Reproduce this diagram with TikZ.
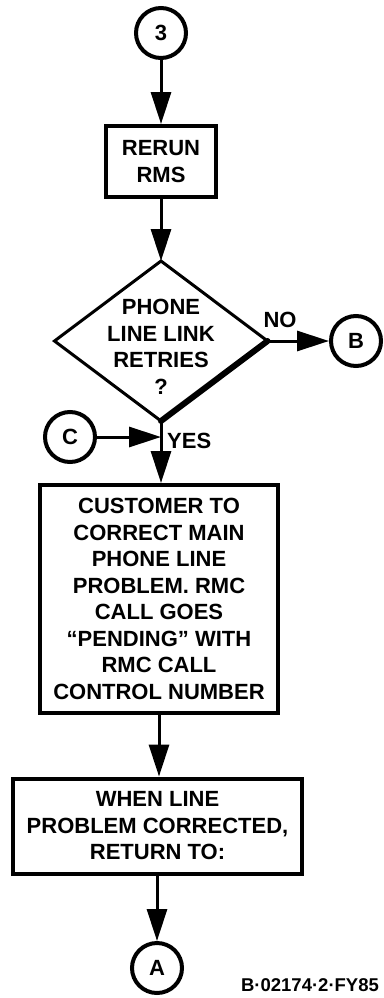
\documentclass[tikz,border=0pt]{standalone}
\usepackage{fontspec}
\setmainfont{Liberation Sans}
\usetikzlibrary{shapes.geometric,arrows.meta}
\begin{document}
\begin{tikzpicture}[x=1pt,y=-1pt,
  mainfont/.style={font=\bfseries\fontsize{22}{26.5}\selectfont},
  lbl/.style={mainfont, align=center, inner sep=0},
  conn/.style={circle, draw, line width=4pt, minimum size=50pt, inner sep=0, mainfont},
  stepbox/.style={rectangle, draw, line width=4pt, align=center, inner sep=0, mainfont},
  flow/.style={line width=3pt, -{Triangle[length=32pt,width=20pt]}},
]
\useasboundingbox (0,0) rectangle (383,998);

\node[conn] (n3) at (161,33) {3};
\node[stepbox, minimum width=110pt, minimum height=71pt] (rerun) at (161,161.5) {RERUN\\RMS};
\node[diamond, draw, line width=3pt, outer sep=0pt, minimum width=213pt, minimum height=160pt, inner sep=0] (dia) at (161,341) {};
\node[lbl] (diat) at (161,347) {PHONE\\LINE LINK\\RETRIES\\?};
\node[conn] (B) at (356,341) {B};
\node[conn] (C) at (70,437) {C};
\node[lbl] (no) at (280,320) {NO};
\node[lbl, anchor=west] (yes) at (167,441) {YES};
\node[stepbox, minimum width=238pt, minimum height=228pt] (main) at (159,599)
  {CUSTOMER TO\\CORRECT MAIN\\PHONE LINE\\PROBLEM. RMC\\CALL GOES\\“PENDING” WITH\\RMC CALL\\CONTROL NUMBER};
\node[stepbox, minimum width=289pt, minimum height=95pt] (ret) at (157.5,826)
  {WHEN LINE\\PROBLEM CORRECTED,\\RETURN TO:};
\node[conn] (A) at (157,968) {A};
\node[font=\bfseries\fontsize{18.5}{20}\selectfont, inner sep=0] (code) at (310,985) {B·02174·2·FY85};

\draw[line width=6pt, line cap=round] (dia.east) -- (dia.south);
\draw[flow] (n3) -- (rerun);
\draw[flow] (rerun) -- (dia.north);
\draw[flow] (dia.east) -- (B);
\draw[flow] (dia.south) -- (dia.south |- main.north);
\draw[flow] (C) -- (C -| dia.south);
\draw[flow] (main.south) -- (main.south |- ret.north);
\draw[flow] (ret.south -| A.north) -- (A.north);
\end{tikzpicture}
\end{document}
